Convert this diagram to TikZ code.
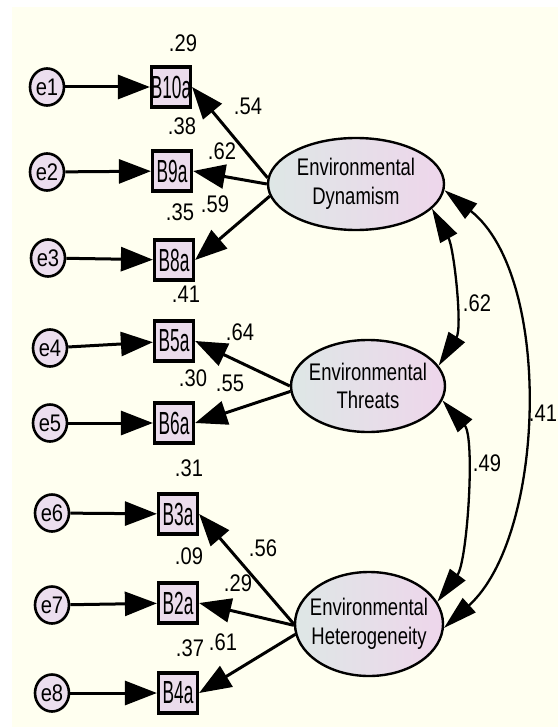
\documentclass[tikz,border=0pt]{standalone}
\usepackage{fontspec}
\usetikzlibrary{shapes.geometric,arrows.meta}
% condensed sans faces for the labels
\newfontfamily\numfont[FakeStretch=0.84]{Liberation Sans}
\newfontfamily\latfont[FakeStretch=0.77]{Liberation Sans}
\newfontfamily\boxfont[FakeStretch=0.54]{Liberation Sans}
\definecolor{ivorybg}{RGB}{255,255,240}
\definecolor{errfill}{RGB}{236,222,238}
\definecolor{boxfill}{RGB}{235,220,236}
\definecolor{latleft}{RGB}{222,231,230}
\definecolor{latright}{RGB}{238,214,235}
% zero-width box so that labels never widen their shapes
\newcommand{\zw}[1]{\makebox[0pt][c]{#1}}
\tikzset{
  errnode/.style={ellipse, draw, line width=2.6pt, fill=errfill,
    minimum width=34pt, minimum height=37pt, inner sep=0pt,
    font=\numfont\fontsize{24}{28}\selectfont},
  obsnode/.style={rectangle, draw, line width=3.2pt, fill=boxfill,
    minimum width=39pt, minimum height=40pt, inner sep=0pt,
    font=\boxfont\fontsize{32}{36}\selectfont},
  latnode/.style={ellipse, draw, line width=2.4pt, left color=latleft,
    right color=latright, inner sep=0pt, align=center,
    font=\latfont\fontsize{24}{28.5}\selectfont},
  coef/.style={inner sep=0pt, font=\numfont\fontsize{24}{28}\selectfont},
  regline/.style={line width=3pt, -{Triangle[length=32pt,width=24pt]}},
  corrline/.style={line width=2.3pt,
    {Triangle[length=34pt,width=19pt]}-{Triangle[length=34pt,width=19pt]}}
}
\begin{document}
\begin{tikzpicture}[x=1pt,y=-1pt]
\useasboundingbox (0,0) rectangle (558,727);
\fill[white] (0,0) rectangle (558,727);
\fill[ivorybg] (12,7) rectangle (558,727);

% latent factors
\node[latnode, minimum width=176pt, minimum height=92pt] (ED) at (356,184)
  {\zw{Environmental}\\\zw{Dynamism}};
\node[latnode, minimum width=154pt, minimum height=92pt] (ET) at (368,386)
  {\zw{Environmental}\\\zw{Threats}};
\node[latnode, minimum width=148pt, minimum height=104pt] (EH) at (369,624)
  {\zw{Environmental}\\\zw{Heterogeneity}};

% observed indicators
\node[obsnode] (B10a) at (171,87)  {\zw{B10a}};
\node[obsnode] (B9a)  at (172,171) {\zw{B9a}};
\node[obsnode] (B8a)  at (174,260) {\zw{B8a}};
\node[obsnode] (B5a)  at (174,341) {\zw{B5a}};
\node[obsnode] (B6a)  at (174,423) {\zw{B6a}};
\node[obsnode] (B3a)  at (178,514) {\zw{B3a}};
\node[obsnode] (B2a)  at (178,603) {\zw{B2a}};
\node[obsnode] (B4a)  at (178,693) {\zw{B4a}};

% error terms
\node[errnode] (e1) at (47,87)  {\zw{e1}};
\node[errnode] (e2) at (47,172) {\zw{e2}};
\node[errnode] (e3) at (48,258) {\zw{e3}};
\node[errnode] (e4) at (50,348) {\zw{e4}};
\node[errnode] (e5) at (50,423) {\zw{e5}};
\node[errnode] (e6) at (52,513) {\zw{e6}};
\node[errnode] (e7) at (52,605) {\zw{e7}};
\node[errnode] (e8) at (52,693) {\zw{e8}};

% error paths
\draw[regline] (e1) -- (B10a);
\draw[regline] (e2) -- (B9a);
\draw[regline] (e3) -- (B8a);
\draw[regline] (e4) -- (B5a);
\draw[regline] (e5) -- (B6a);
\draw[regline] (e6) -- (B3a);
\draw[regline] (e7) -- (B2a);
\draw[regline] (e8) -- (B4a);

% factor loadings
\draw[regline] (ED.176) -- (B10a.east);
\draw[regline] (ED.180) -- (B9a.east);
\draw[regline] (ED.188) -- (B8a.east);
\draw[regline] (ET.180) -- (B5a.east);
\draw[regline] (ET.184) -- (B6a.east);
\draw[regline] (EH.180) -- (B3a.east);
\draw[regline] (EH.181) -- (B2a.east);
\draw[regline] (EH.188) -- (B4a.east);

% factor correlations
\draw[corrline] (ED.-18) .. controls +(22,39) and +(24,-38) .. (ET.16);
\draw[corrline] (ET.-11) .. controls +(33,37) and +(30,-40) .. (EH.18);
\draw[corrline] (ED.-4) .. controls +(109,86) and +(102,-92) .. (EH.-3);

% squared multiple correlations
\node[coef] (r10) at (183,43)  {.29};
\node[coef] (r9)  at (182,126) {.38};
\node[coef] (r8)  at (180,212) {.35};
\node[coef] (r5)  at (186,294) {.41};
\node[coef] (r6)  at (193,378) {.30};
\node[coef] (r3)  at (189,468) {.31};
\node[coef] (r2)  at (189,556) {.09};
\node[coef] (r4)  at (190,648) {.37};

% standardized loadings
\node[coef] (l10) at (248,106) {.54};
\node[coef] (l9)  at (222,151) {.62};
\node[coef] (l8)  at (215,204) {.59};
\node[coef] (l5)  at (240,332) {.64};
\node[coef] (l6)  at (230,383) {.55};
\node[coef] (l3)  at (263,548) {.56};
\node[coef] (l2)  at (238,583) {.29};
\node[coef] (l4)  at (223,642) {.61};

% correlation values
\node[coef] (c12) at (477,303) {.62};
\node[coef] (c23) at (487,463) {.49};
\node[coef] (c13) at (543,413) {.41};
\end{tikzpicture}
\end{document}
